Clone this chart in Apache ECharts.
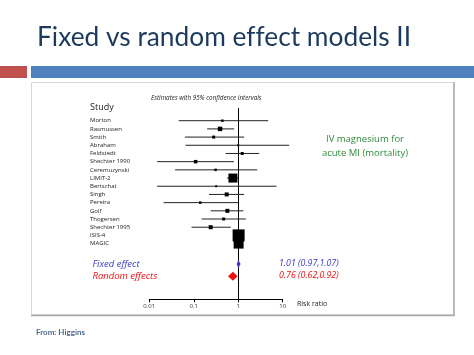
<!DOCTYPE html>
<html><head><meta charset="utf-8">
<script src="https://cdn.jsdelivr.net/npm/echarts@6/dist/echarts.min.js"></script>
<style>html,body{margin:0;padding:0;background:#fff}#c{width:474px;height:355px}</style>
</head><body><div id="c"></div>
<script>
// ---- data ----
const studies = ['Morton','Rasmussen','Smith','Abraham','Feldstedt','Shechter 1990','Ceremuzynski','LIMIT-2','Bertschat','Singh','Pereira','Golf','Thogersen','Shechter 1995','ISIS-4','MAGIC'];
const estimates = [0.44,0.39,0.28,1.0,1.23,0.11,0.31,0.76,0.32,0.55,0.14,0.57,0.47,0.24,1.02,1.02];
const lower = [0.046,0.20,0.063,0.065,0.52,0.015,0.038,0.56,0.015,0.22,0.021,0.24,0.15,0.089,0.99,0.80];
const upper = [4.72,0.81,1.36,14,2.96,0.80,2.67,0.99,7.25,1.36,1.05,1.30,1.48,0.68,1.12,1.25];
const weights = [6,20,9,4,9,12,6,81,4,16,6,16,9,16,144,100];
const pooledNames = ['Fixed effect','Random effects'];
const pooledEst = [1.01,0.76];
const pooledLower = [0.97,0.62];
const pooledUpper = [1.07,0.92];
const xTicks = [0.01,0.1,1,10];

const chart = echarts.init(document.getElementById('c'), null, {renderer:'canvas'});
const nS = studies.length;
const pooledRows = [nS + 1.5, nS + 3];
const pooledColors = ['#3b3bc4','#ee1111'];
const txtFont = '"Open Sans", sans-serif';

const studyData = studies.map((s,i)=>[estimates[i], i, lower[i], upper[i], weights[i], s]);
const pooledData = pooledNames.map((s,i)=>[pooledEst[i], pooledRows[i], pooledLower[i], pooledUpper[i], i, s]);

chart.setOption({
  animation:false,
  backgroundColor:'#fff',
  grid:{left:149.3, right:191.3, top:108, bottom:55.7},
  xAxis:{type:'log', logBase:10, min:xTicks[0], max:xTicks[xTicks.length-1],
    axisLine:{show:true, onZero:false, lineStyle:{color:'#000', width:1}},
    axisTick:{show:true, length:3, lineStyle:{color:'#000'}},
    axisLabel:{fontSize:6, color:'#333', margin:4, fontFamily:txtFont, formatter:v=>String(+(+v).toPrecision(2))},
    splitLine:{show:false}, minorTick:{show:false}},
  yAxis:{type:'value', inverse:true, min:-1.55, max:21.8, show:false},
  graphic:[
    {type:'text', left:37, top:25, style:{text:'Fixed vs random ef\u200Cfect models II', font:'26.3px Lato, sans-serif', fill:'#1c3a5e'}},
    {type:'rect', shape:{x:0,y:66,width:27,height:12}, style:{fill:'#c0504d'}},
    {type:'rect', shape:{x:31,y:66,width:443,height:12}, style:{fill:'#4f81bd'}},
    {type:'rect', z:-10, shape:{x:31.5,y:82.5,width:422,height:232}, style:{fill:'#fff', stroke:'#d8d8d8', lineWidth:1}},
    {type:'polyline', z:-9, shape:{points:[[454,82],[454,315.5],[31,315.5]]}, style:{stroke:'#a8a8a8', lineWidth:1.5, fill:null}},
    {type:'text', left:151, top:95, style:{text:'Estimates with 95% confidence intervals', font:'italic 6.3px '+txtFont, fill:'#222'}},
    {type:'text', left:90, top:103, style:{text:'Study', font:'9px '+txtFont, fill:'#222'}},
    {type:'text', left:297, top:300.5, style:{text:'Risk ratio', font:'7px '+txtFont, fill:'#222'}},
    {type:'text', x:365, y:139.5, style:{text:'IV magnesium for', font:'9.5px '+txtFont, fill:'#2f8a3a', align:'center', verticalAlign:'middle'}},
    {type:'text', x:365, y:153.5, style:{text:'acute MI (mortality)', font:'9.5px '+txtFont, fill:'#2f8a3a', align:'center', verticalAlign:'middle'}},
    {type:'text', left:36, top:328, style:{text:'From: Higgins', font:'bold 8px Lato, sans-serif', fill:'#4e6a8e'}}
  ],
  series:[
    {type:'custom', clip:false, data:[], z:1, renderItem:()=>null,
     markLine:{silent:true, symbol:'none', z:1, label:{show:false}, lineStyle:{color:'#000', width:1, type:'solid'}, data:[{xAxis:1}]}
    },
    {type:'custom', clip:false, data:studyData, z:3,
     renderItem:(p,api)=>{
       const i = api.value(1);
       const a = api.coord([api.value(2), i]);
       const b = api.coord([api.value(3), i]);
       const c = api.coord([api.value(0), i]);
       const s = Math.sqrt(api.value(4));
       return {type:'group', children:[
         {type:'line', shape:{x1:a[0],y1:a[1],x2:b[0],y2:b[1]}, style:{stroke:'#222', lineWidth:1}},
         {type:'rect', shape:{x:c[0]-s/2, y:c[1]-s/2, width:s, height:s}, style:{fill:'#000'}},
         {type:'text', x:90, y:c[1], style:{text:studies[p.dataIndex], font:'6px '+txtFont, fill:'#222', verticalAlign:'middle', align:'left'}}
       ]};
     }
    },
    {type:'custom', clip:false, data:pooledData, z:5,
     renderItem:(p,api)=>{
       const r = api.value(1);
       const a = api.coord([api.value(2), r]);
       const b = api.coord([api.value(3), r]);
       const c = api.coord([api.value(0), r]);
       const k = api.value(4);
       const h = k===0 ? 4 : 4.5;
       const col = pooledColors[k];
       const lbl = pooledEst[k].toFixed(2)+' ('+pooledLower[k].toFixed(2)+','+pooledUpper[k].toFixed(2)+')';
       return {type:'group', children:[
         {type:'polygon', shape:{points:[[Math.min(a[0]-1,c[0]-1.6),c[1]],[c[0],c[1]-h],[Math.max(b[0]+1,c[0]+1.6),c[1]],[c[0],c[1]+h]]}, style:{fill:col}},
         {type:'text', x:92.5, y:c[1], style:{text:pooledNames[k], font:'italic 9.5px '+txtFont, fill:col, verticalAlign:'middle'}},
         {type:'text', x:279, y:c[1]-0.5, style:{text:lbl, font:'italic 8.8px '+txtFont, fill:col, verticalAlign:'middle'}}
       ]};
     }
    }
  ]
});
</script></body></html>
